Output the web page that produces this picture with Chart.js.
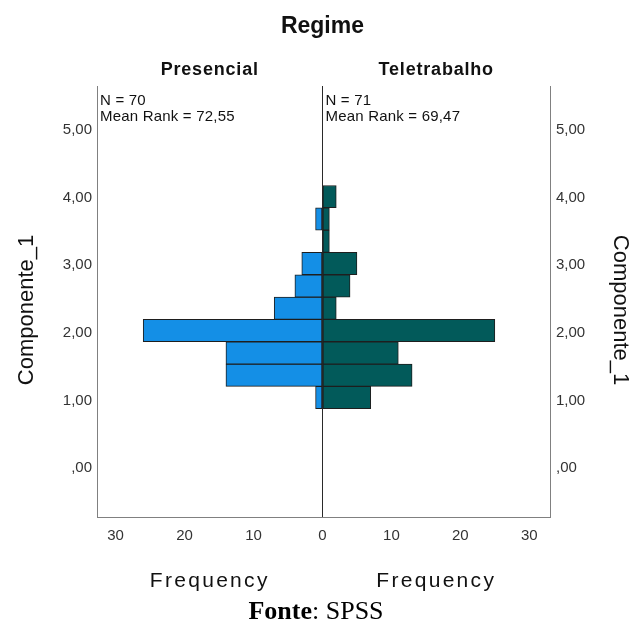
<!DOCTYPE html>
<html>
<head>
<meta charset="utf-8">
<title>Regime - Componente_1</title>
<script src="https://cdn.jsdelivr.net/npm/chart.js@4.4.1/dist/chart.umd.min.js"></script>
<style>
  body { margin: 0; background: #fff; }
  #wrap { position: relative; width: 632px; height: 621px; overflow: hidden; }
  #fonte {
    position: absolute; left: 0; top: 596px; width: 632px;
    text-align: center; color: #000;
    font-family: "Liberation Serif", "Times New Roman", serif; font-size: 26px;
  }
</style>
</head>
<body>
<div id="wrap">
  <canvas id="piramide" width="632" height="621"></canvas>
  <div id="fonte"><b>Fonte</b>: SPSS</div>
</div>
<script>
// dados (histograma do SPSS, classes de ~0,33)
const binCenters = [1.045, 1.375, 1.705, 2.035, 2.365, 2.695, 3.025, 3.355, 3.685, 4.015];
const presencial = [1, 14, 14, 26, 7, 4, 3, 0, 1, 0];
const teletrabalho = [7, 13, 11, 25, 2, 4, 5, 1, 1, 2];

// eixos
const yTicks = [0, 1, 2, 3, 4, 5];
const xTicks = [-30, -20, -10, 0, 10, 20, 30];

// textos
const titulo = 'Regime';
const groupNames = ['Presencial', 'Teletrabalho'];
const groupInfo = [['N = 70', 'Mean Rank = 72,55'], ['N = 71', 'Mean Rank = 69,47']];
const xTitle = 'Frequency';
const yTitle = 'Componente_1';

const fonte = '"Liberation Sans", Arial, sans-serif';

// formato 1,00 / ,00 como no SPSS
function fmtY(v) {
    let s = v.toFixed(2).replace('.', ',');
    if (s.startsWith('0')) s = s.slice(1);
    return s;
}

// textos extra: titulo, grupos, N / Mean Rank, titulos dos eixos
const textosPlugin = {
    id: 'textos',
    afterDraw(chart) {
        const ctx = chart.ctx;
        const area = chart.chartArea;
        const zero = chart.scales.x.getPixelForValue(0);
        const centros = [(area.left + zero) / 2, (zero + area.right) / 2];

        ctx.save();
        ctx.fillStyle = '#111';
        ctx.textAlign = 'center';
        ctx.textBaseline = 'alphabetic';

        ctx.font = 'bold 23px ' + fonte;
        ctx.fillText(titulo, zero, 33);

        ctx.font = 'bold 18px ' + fonte;
        ctx.letterSpacing = '0.8px';
        groupNames.forEach((g, i) => ctx.fillText(g, centros[i], area.top - 11));

        ctx.font = '21px ' + fonte;
        ctx.letterSpacing = '2.3px';
        centros.forEach(c => ctx.fillText(xTitle, c, 587));

        ctx.textAlign = 'left';
        ctx.font = '15px ' + fonte;
        ctx.letterSpacing = '0.2px';
        const inicio = [area.left + 3, zero + 3];
        groupInfo.forEach((linhas, i) => {
            linhas.forEach((l, j) => ctx.fillText(l, inicio[i], area.top + 19 + j * 16));
        });

        // Componente_1 dos dois lados
        ctx.letterSpacing = '0px';
        ctx.font = '22px ' + fonte;
        ctx.textAlign = 'center';
        ctx.textBaseline = 'middle';
        ctx.save();
        ctx.translate(27, 310);
        ctx.rotate(-Math.PI / 2);
        ctx.fillText(yTitle, 0, 0);
        ctx.restore();
        ctx.save();
        ctx.translate(620, 310);
        ctx.rotate(Math.PI / 2);
        ctx.fillText(yTitle, 0, 0);
        ctx.restore();

        ctx.restore();
    }
};

const tickFont = { family: fonte, size: 15 };

const yAxis = (pos, largura, pad) => ({
    type: 'linear',
    position: pos,
    min: -0.72,
    max: 5.65,
    offset: false,
    afterBuildTicks: s => { s.ticks = yTicks.map(v => ({ value: v })); },
    afterFit: s => { s.width = largura; },
    grid: { display: false, drawTicks: false, offset: false },
    border: { color: '#808080' },
    ticks: { padding: pad, color: '#333', font: tickFont, callback: v => fmtY(v) }
});

const data = {
    datasets: [{
        label: groupNames[0],
        data: binCenters.map((c, i) => ({ x: -presencial[i], y: c })),
        backgroundColor: '#148fe6',
        borderColor: '#1e1e1e',
        borderWidth: 1,
        borderSkipped: false
    }, {
        label: groupNames[1],
        data: binCenters.map((c, i) => ({ x: teletrabalho[i], y: c })),
        backgroundColor: '#025a5a',
        borderColor: '#1e1e1e',
        borderWidth: 1,
        borderSkipped: false
    }]
};

const config = {
    type: 'bar',
    data: data,
    options: {
        indexAxis: 'y',
        responsive: false,
        animation: false,
        grouped: false,
        barPercentage: 1,
        categoryPercentage: 1,
        layout: { padding: { top: 86, left: 0, right: 0, bottom: 0 } },
        plugins: {
            legend: { display: false },
            tooltip: { enabled: false },
            title: { display: false }
        },
        scales: {
            x: {
                type: 'linear',
                min: -32.7,
                max: 33,
                afterBuildTicks: s => { s.ticks = xTicks.map(v => ({ value: v })); },
                afterFit: s => { s.height = 104; },
                grid: {
                    drawTicks: false,
                    color: c => (c.tick && c.tick.value === 0) ? '#2a2a2a' : 'rgba(0,0,0,0)'
                },
                border: { color: '#808080' },
                ticks: { padding: 10, color: '#333', font: tickFont, callback: v => Math.abs(v) }
            },
            y: yAxis('left', 97, 5),
            y2: yAxis('right', 82, 6)
        }
    },
    plugins: [textosPlugin]
};

const ctx = document.getElementById('piramide');
const myChart = new Chart(ctx, config);
window.myChart = myChart;
</script>
</body>
</html>
